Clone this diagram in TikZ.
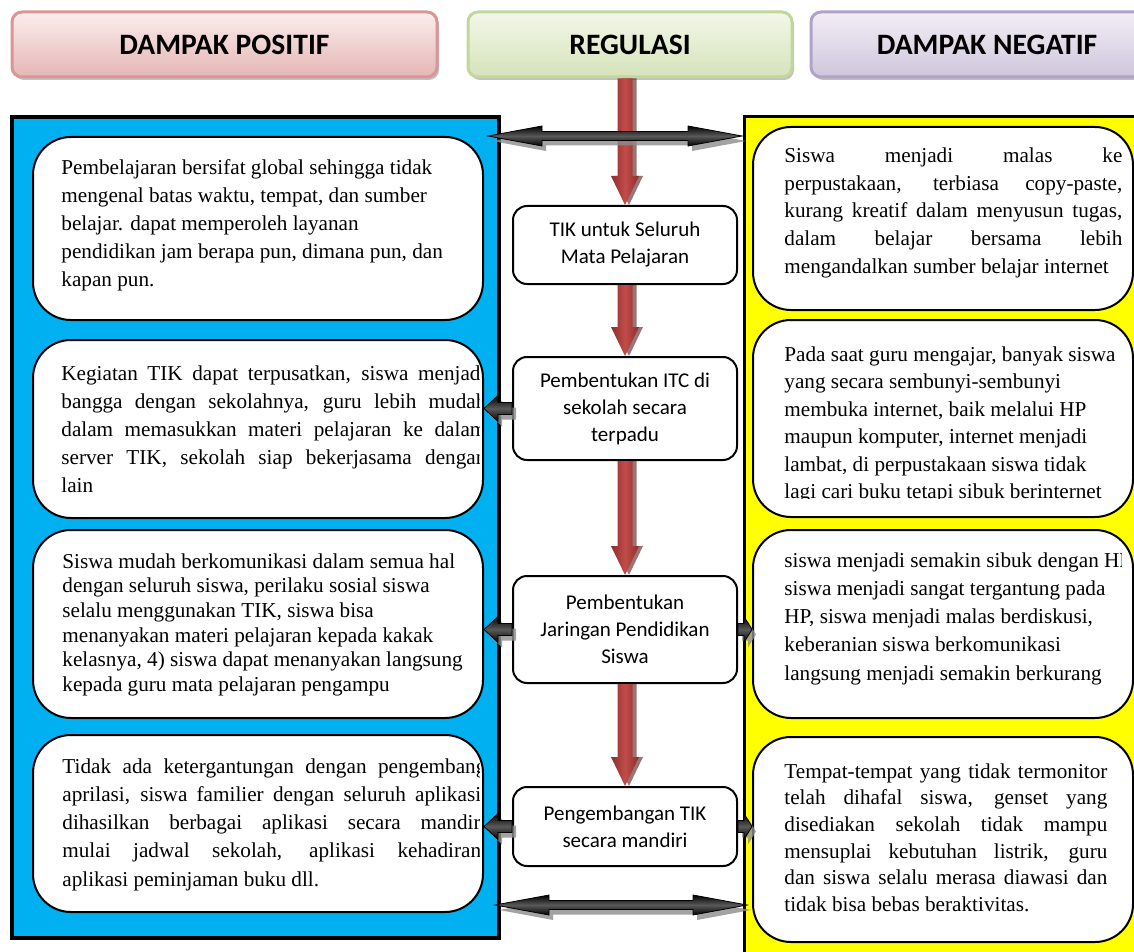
\documentclass[tikz,border=0pt]{standalone}
\usepackage{fontspec}
\setmainfont{Liberation Serif}
\setsansfont{Carlito}
\usetikzlibrary{calc, shadows}

\definecolor{panelblue}{HTML}{00B0F0}
\definecolor{panelyellow}{HTML}{FFFF00}
\definecolor{redD}{HTML}{8C2D2B}
\definecolor{redL}{HTML}{C24C49}
\definecolor{posTop}{HTML}{FBEDED}
\definecolor{posBot}{HTML}{E4B6B5}
\definecolor{posLine}{HTML}{D99694}
\definecolor{regTop}{HTML}{F3F7EA}
\definecolor{regBot}{HTML}{D5E3BA}
\definecolor{regLine}{HTML}{C3D69B}
\definecolor{negTop}{HTML}{F2EFF6}
\definecolor{negBot}{HTML}{CFC5DC}
\definecolor{negLine}{HTML}{B3A2C7}

% block arrows (coordinates in pixels)
\newcommand{\redarrow}[2]{%
  \foreach \sty in {rshadow, rfill}
    \path[\sty] ($(#1)+(-7.5,0)$) -- ($(#2)+(-7.5,-29)$) -- ($(#2)+(-14,-29)$) -- (#2)
      -- ($(#2)+(14,-29)$) -- ($(#2)+(7.5,-29)$) -- ($(#1)+(7.5,0)$) -- cycle;}
\newcommand{\dblarrow}[2]{%
  \foreach \sty in {ashadow, ablack}
    \path[\sty] (#1) -- ($(#1)+(54,-10)$) -- ($(#1)+(54,-4.5)$) -- ($(#2)+(-54,-4.5)$)
      -- ($(#2)+(-54,-10)$) -- (#2) -- ($(#2)+(-54,10)$) -- ($(#2)+(-54,4.5)$)
      -- ($(#1)+(54,4.5)$) -- ($(#1)+(54,10)$) -- cycle;}
\newcommand{\sidearrow}[3]{%
  \coordinate (sa-b) at ($(#2)!#3!(#1)$);
  \foreach \sty in {ashadow, ablack}
    \path[\sty] ($(#1)+(0,-6)$) -- ($(sa-b)+(0,-6)$) -- ($(sa-b)+(0,-13)$) -- (#2)
      -- ($(sa-b)+(0,13)$) -- ($(sa-b)+(0,6)$) -- ($(#1)+(0,6)$) -- cycle;}

\begin{document}
\begin{tikzpicture}[x=0.5pt, y=-0.5pt,
    header/.style={rounded corners=5pt, line width=1.5pt, minimum height=32.5pt, inner sep=0pt,
      font=\sffamily\bfseries\fontsize{14.8}{16}\selectfont,
      drop shadow={shadow xshift=1pt, shadow yshift=-1.5pt, fill=black!35, opacity=.7}},
    panel/.style={draw=black, inner sep=0pt},
    infobox/.style={draw=black, fill=white, line width=1pt, rounded corners=19pt, inner sep=0pt},
    stepbox/.style={draw=black, fill=white, line width=1pt, rounded corners=7pt, minimum width=112pt,
      inner sep=0pt, align=center, font=\sffamily\fontsize{10.5}{13.5}\selectfont},
    body/.style={anchor=base west, inner sep=0pt, font=\fontsize{10.6}{14}\selectfont},
    rshadow/.style={fill=redD!60!black, opacity=.6, transform canvas={shift={(2pt,0pt)}}},
    rfill/.style={left color=redD, right color=redD, middle color=redL},
    ashadow/.style={fill=black!45, opacity=.8, transform canvas={shift={(2pt,-2.5pt)}}},
    ablack/.style={top color=black, bottom color=black, middle color=black!65, draw=black, line width=.4pt}
  ]
  \useasboundingbox (0,0) rectangle (1134,952);

  % headers
  \node[header, top color=posTop, bottom color=posBot, draw=posLine, minimum width=212.5pt] (pos) at (224.5,44.5) {DAMPAK POSITIF};
  \node[header, top color=regTop, bottom color=regBot, draw=regLine, minimum width=162pt] (reg) at (630,44.5) {REGULASI};
  \node[header, top color=negTop, bottom color=negBot, draw=negLine, minimum width=176pt] (neg) at (987,44.5) {DAMPAK NEGATIF};

  % panels
  \node[panel, fill=panelblue, line width=2pt, minimum width=243.5pt, minimum height=410.5pt] (posp) at (255.5,527.5) {};
  \node[panel, fill=panelyellow, line width=1.5pt, minimum width=203pt, minimum height=426.5pt] (negp) at (947,543.5) {};

  % positive impacts
  \node[infobox, minimum width=225pt, minimum height=91.5pt] (pos1) at (258,228.5) {};
  \node[infobox, minimum width=225pt, minimum height=89pt] (pos2) at (258,429) {};
  \node[infobox, minimum width=225pt, minimum height=94pt] (pos3) at (258,624) {};
  \node[infobox, minimum width=225pt, minimum height=88.5pt] (pos4) at (258,823.5) {};

  \node[body] (pos1t) at (61,175) {\parbox[t]{215pt}{\raggedright
    Pembelajaran bersifat global sehingga tidak\\
    mengenal batas waktu, tempat, dan sumber\\
    belajar. dapat memperoleh layanan\\
    pendidikan jam berapa pun, dimana pun, dan\\
    kapan pun.}};
  \begin{scope}
    \clip (40,345) rectangle (479,515);
    \node[body] (pos2t) at (61,380) {\parbox[t]{212.5pt}{%
      Kegiatan TIK dapat terpusatkan, siswa menjadi\linebreak
      bangga dengan sekolahnya, guru lebih mudah\linebreak
      dalam memasukkan materi pelajaran ke dalam\linebreak
      server TIK, sekolah siap bekerjasama dengan\linebreak
      lain}};
  \end{scope}
  \node[body, font=\fontsize{10.6}{12.35}\selectfont] (pos3t) at (62,568) {\parbox[t]{215pt}{\raggedright
    Siswa mudah berkomunikasi dalam semua hal\\
    dengan seluruh siswa, perilaku sosial siswa\\
    selalu menggunakan TIK, siswa bisa\\
    menanyakan materi pelajaran kepada kakak\\
    kelasnya, 4) siswa dapat menanyakan langsung\\
    kepada guru mata pelajaran pengampu}};
  \begin{scope}
    \clip (40,740) rectangle (479,908);
    \node[body, font=\fontsize{10.6}{14.15}\selectfont] (pos4t) at (62,773) {\parbox[t]{212pt}{%
      Tidak ada ketergantungan dengan pengembang\linebreak
      aprilasi, siswa familier dengan seluruh aplikasi,\linebreak
      dihasilkan berbagai aplikasi secara mandiri\linebreak
      mulai jadwal sekolah, aplikasi kehadiran,\linebreak
      aplikasi peminjaman buku dll.}};
  \end{scope}

  % negative impacts
  \node[infobox, minimum width=190pt, minimum height=91.5pt] (neg1) at (943,218.5) {};
  \node[infobox, minimum width=190pt, minimum height=98.5pt] (neg2) at (943,418.5) {};
  \node[infobox, minimum width=190pt, minimum height=94pt] (neg3) at (943,624) {};
  \node[infobox, minimum width=190pt, minimum height=102.5pt] (neg4) at (943,839.5) {};

  \node[body, font=\fontsize{10.6}{13.75}\selectfont] (neg1t) at (784,163) {\parbox[t]{169pt}{%
    Siswa menjadi malas ke\linebreak
    perpustakaan, terbiasa copy-paste,\linebreak
    kurang kreatif dalam menyusun tugas,\linebreak
    dalam belajar bersama lebih\linebreak
    mengandalkan sumber belajar internet}};
  \begin{scope}
    \clip (770,330) rectangle (1128,498);
    \node[body, font=\fontsize{10.6}{13.75}\selectfont] (neg2t) at (784,361) {\parbox[t]{180pt}{\raggedright
      Pada saat guru mengajar, banyak siswa\\
      yang secara sembunyi-sembunyi\\
      membuka internet, baik melalui HP\\
      maupun komputer, internet menjadi\\
      lambat, di perpustakaan siswa tidak\\
      lagi cari buku tetapi sibuk berinternet}};
  \end{scope}
  \begin{scope}
    \clip (770,540) rectangle (1121,710);
    \node[body, font=\fontsize{10.6}{14.15}\selectfont] (neg3t) at (784,567) {\parbox[t]{190pt}{\raggedright
      siswa menjadi semakin sibuk dengan HP\\
      siswa menjadi sangat tergantung pada\\
      HP, siswa menjadi malas berdiskusi,\\
      keberanian siswa berkomunikasi\\
      langsung menjadi semakin berkurang}};
  \end{scope}
  \node[body, font=\fontsize{10.6}{13.35}\selectfont] (neg4t) at (784,778) {\parbox[t]{161.5pt}{%
    Tempat-tempat yang tidak termonitor\linebreak
    telah dihafal siswa, genset yang\linebreak
    disediakan sekolah tidak mampu\linebreak
    mensuplai kebutuhan listrik, guru\linebreak
    dan siswa selalu merasa diawasi dan\linebreak
    tidak bisa bebas beraktivitas.}};

  % regulation steps
  \node[stepbox, minimum height=39pt] (tik) at (625,245) {TIK untuk Seluruh\\Mata Pelajaran};
  \node[stepbox, minimum height=51.5pt] (itc) at (625,408.5) {Pembentukan ITC di\\sekolah secara\\terpadu};
  \node[stepbox, minimum height=53.5pt] (jar) at (625,629.5) {Pembentukan\\Jaringan Pendidikan\\Siswa};
  \node[stepbox, minimum height=39.5pt] (mand) at (625,826.5) {Pengembangan TIK\\secara mandiri};

  % red arrows
  \coordinate (reg-out) at (tik.north |- reg.south);
  \redarrow{reg-out}{tik.north}
  \redarrow{tik.south}{itc.north}
  \redarrow{itc.south}{jar.north}
  \redarrow{jar.south}{mand.north}

  % double arrows between the panels
  \coordinate (top-l) at (488,136);
  \coordinate (top-r) at (742,136);
  \coordinate (bot-l) at (495,905);
  \coordinate (bot-r) at (747,905);
  \dblarrow{top-l}{top-r}
  \dblarrow{bot-l}{bot-r}

  % side arrows
  \coordinate (l2) at (pos2.east |- itc.west);
  \coordinate (l3) at (pos3.east |- jar.west);
  \coordinate (l4) at (pos4.east |- mand.west);
  \coordinate (r3) at (neg3.west |- jar.east);
  \coordinate (r4) at (neg4.west |- mand.east);
  \sidearrow{itc.west}{l2}{7pt}
  \sidearrow{jar.west}{l3}{7pt}
  \sidearrow{mand.west}{l4}{7pt}
  \sidearrow{jar.east}{r3}{4pt}
  \sidearrow{mand.east}{r4}{4pt}
\end{tikzpicture}
\end{document}
